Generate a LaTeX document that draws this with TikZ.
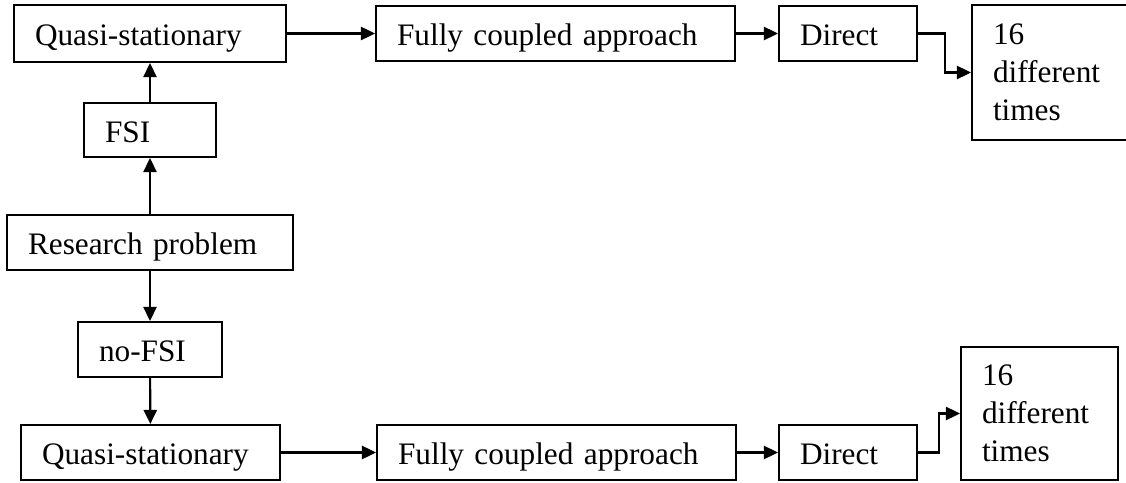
\documentclass[tikz,border=0pt]{standalone}
\usepackage{fontspec}
\setmainfont{Liberation Serif}
\usetikzlibrary {arrows.meta, positioning, calc}
\tikzset{
	box/.style={draw, rectangle, align=left, inner xsep=0.42cm, inner ysep=0pt,
		font=\fontsize{17.8pt}{21.5pt}\selectfont, text height=14.2pt, text depth=0pt},
	tallbox/.style={draw, rectangle, align=left, inner xsep=0.42cm, inner ysep=0pt,
		font=\fontsize{17.8pt}{21.5pt}\selectfont}
}

\begin{document}
\begin{tikzpicture}[->,>={Triangle[length=8pt,width=7.5pt]},x=0.02cm,y=-0.02cm,line width=1.2pt]

	\useasboundingbox (0,0) rectangle (1126,483);

	\node[box, text width=4.6cm,  minimum height=1.14cm] (Q1) at (150,33.5)	{Quasi-stationary};
	\node[box, text width=6.34cm, minimum height=1.1cm]  (F1) at (555.5,33.5)	{Fully coupled approach};
	\node[box, text width=1.92cm, minimum height=1.1cm]  (D1) at (848,33.5)	{Direct};
	\node[tallbox, text width=2.26cm, minimum height=2.7cm]  (T1) at (1049.5,72.5)	{16\\different\\times};

	\node[box, text width=1.8cm,  minimum height=1.08cm] (FSI) at (150,130)	{FSI};
	\node[box, text width=4.88cm, minimum height=1.1cm]  (RP) at (150,242.5)	{Research problem};
	\node[box, text width=2.04cm, minimum height=1.1cm]  (NF) at (150,349.5)	{no-FSI};

	\node[box, text width=4.34cm, minimum height=1.1cm]  (Q2) at (150.5,452.5)	{Quasi-stationary};
	\node[box, text width=6.34cm, minimum height=1.1cm]  (F2) at (556.5,452.5)	{Fully coupled approach};
	\node[box, text width=1.92cm, minimum height=1.1cm]  (D2) at (848,452.5)	{Direct};
	\node[tallbox, text width=2.3cm,  minimum height=2.66cm] (T2) at (1039.5,413.5)	{16\\different\\times};

	\path (RP)  edge (FSI);
	\path (FSI) edge (Q1);
	\path (RP)  edge (NF);
	\path (NF)  edge (Q2);

	\path (Q1) edge (F1);
	\path (F1) edge (D1);
	\path (Q2) edge (F2);
	\path (F2) edge (D2);

	\draw (D1.east) -- ++(27,0) |- (T1.west);
	\draw (D2.east) -- ++(21,0) |- (T2.west);
\end{tikzpicture}
\end{document}
